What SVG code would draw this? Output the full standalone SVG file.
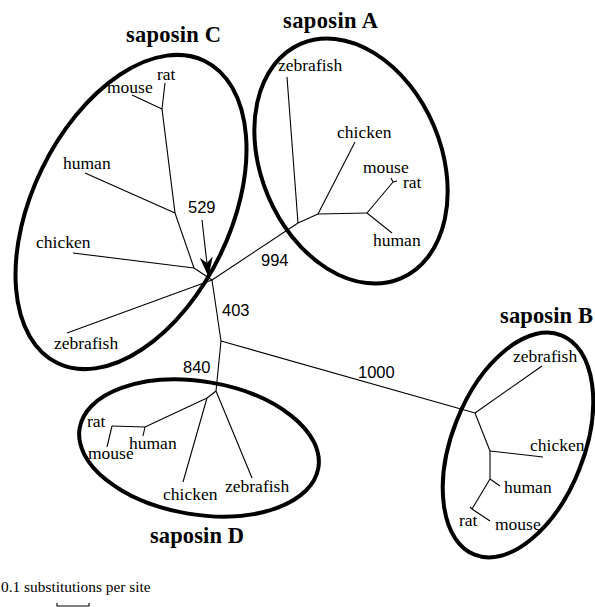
<svg xmlns="http://www.w3.org/2000/svg" width="595" height="607" viewBox="0 0 595 607">
<style>
.bg{fill:#ffffff}
.ell{fill:none;stroke:#000;stroke-width:4}
.title{font-family:"Liberation Serif",serif;font-weight:bold;font-size:22.5px;fill:#000}
.sp{font-family:"Liberation Serif",serif;font-size:17.5px;fill:#000}
.num{font-family:"Liberation Sans",sans-serif;font-size:16.5px;fill:#000}
.cap{font-family:"Liberation Serif",serif;font-size:15.4px;fill:#000}
#connectors line,#connectors polyline{stroke:#000;stroke-width:1.1;fill:none}
</style>
<defs>
<marker id="ah" markerUnits="userSpaceOnUse" markerWidth="24" markerHeight="16" viewBox="-21 -8 22 16" refX="0" refY="0" orient="auto">
<path d="M0,0 L-20,-6.5 L-14,0 L-20,6.5 Z" fill="#000"/>
</marker>
</defs>
<rect class="bg" x="0" y="0" width="595" height="607"/>

<g id="connectors">
<!-- backbone -->
<line x1="212" y1="280" x2="298" y2="223"/>
<line x1="212" y1="280" x2="221" y2="341"/>
<line x1="221" y1="341" x2="475" y2="413"/>
<line x1="221" y1="341" x2="216" y2="391"/>
<!-- saposin A -->
<line x1="298" y1="223" x2="318" y2="214"/>
<line x1="298" y1="223" x2="287" y2="77"/>
<line x1="318" y1="214" x2="355" y2="142"/>
<line x1="318" y1="214" x2="367" y2="213"/>
<line x1="367" y1="213" x2="393" y2="182"/>
<line x1="367" y1="213" x2="392" y2="233"/>
<line x1="393" y1="182" x2="397" y2="181"/>
<line x1="393" y1="182" x2="391" y2="178"/>
<!-- saposin C -->
<line x1="212" y1="280" x2="194" y2="268"/>
<line x1="194" y1="268" x2="73" y2="253"/>
<line x1="194" y1="268" x2="175" y2="213"/>
<line x1="175" y1="213" x2="85" y2="173"/>
<line x1="175" y1="213" x2="162" y2="109"/>
<line x1="162" y1="109" x2="132" y2="95"/>
<line x1="162" y1="109" x2="165" y2="83"/>
<line x1="212" y1="280" x2="67" y2="333"/>
<!-- saposin B -->
<line x1="475" y1="413" x2="542" y2="366"/>
<line x1="475" y1="413" x2="490" y2="451"/>
<line x1="490" y1="451" x2="543" y2="457"/>
<line x1="490" y1="451" x2="490" y2="479"/>
<line x1="490" y1="479" x2="500" y2="486"/>
<line x1="490" y1="479" x2="472" y2="509"/>
<line x1="472" y1="509" x2="470" y2="507"/>
<line x1="472" y1="509" x2="490" y2="521"/>
<!-- saposin D -->
<line x1="216" y1="391" x2="207" y2="398"/>
<line x1="207" y1="398" x2="183" y2="482"/>
<line x1="216" y1="391" x2="252" y2="478"/>
<line x1="207" y1="398" x2="145" y2="427"/>
<line x1="145" y1="427" x2="143" y2="436"/>
<line x1="145" y1="427" x2="112" y2="426"/>
<line x1="112" y1="426" x2="107" y2="447"/>
<!-- arrow to node 529 -->
<line x1="202" y1="220" x2="208.5" y2="277" marker-end="url(#ah)"/>
<!-- scale bar -->
<polyline points="57,603 57,606 89,606 89,603"/>
</g>

<g id="saposinC">
<ellipse class="ell" cx="131" cy="212" rx="99" ry="168" transform="rotate(26 131 212)"/>
<text class="title" x="126" y="42" textLength="95">saposin C</text>
<text class="sp" x="157" y="80">rat</text>
<text class="sp" x="107" y="93">mouse</text>
<text class="sp" x="63" y="169">human</text>
<text class="sp" x="36" y="248">chicken</text>
<text class="sp" x="54" y="349">zebrafish</text>
</g>

<g id="saposinA">
<ellipse class="ell" cx="351" cy="161" rx="90" ry="127.5" transform="rotate(-23 351 161)"/>
<text class="title" x="283" y="28" textLength="95">saposin A</text>
<text class="sp" x="278" y="71">zebrafish</text>
<text class="sp" x="337" y="138">chicken</text>
<text class="sp" x="363" y="173">mouse</text>
<text class="sp" x="403" y="188">rat</text>
<text class="sp" x="373" y="246">human</text>
</g>

<g id="saposinB">
<ellipse class="ell" cx="518" cy="445" rx="66" ry="118" transform="rotate(21.6 518 445)"/>
<text class="title" x="500" y="323" textLength="93">saposin B</text>
<text class="sp" x="513" y="362">zebrafish</text>
<text class="sp" x="530" y="451">chicken</text>
<text class="sp" x="504" y="493">human</text>
<text class="sp" x="459" y="526">rat</text>
<text class="sp" x="495" y="530">mouse</text>
</g>

<g id="saposinD">
<ellipse class="ell" cx="199" cy="448" rx="121" ry="66.5" transform="rotate(9.4 199 448)"/>
<text class="title" x="150" y="543" textLength="94">saposin D</text>
<text class="sp" x="87" y="427">rat</text>
<text class="sp" x="88" y="459">mouse</text>
<text class="sp" x="129" y="449">human</text>
<text class="sp" x="163" y="500">chicken</text>
<text class="sp" x="225" y="492">zebrafish</text>
</g>

<g id="bootstrap">
<text class="num" x="188" y="213">529</text>
<text class="num" x="261" y="266">994</text>
<text class="num" x="222" y="316">403</text>
<text class="num" x="183" y="373">840</text>
<text class="num" x="358" y="378">1000</text>
</g>

<g id="scale">
<text class="cap" x="1" y="592">0.1 substitutions per site</text>
</g>
</svg>
